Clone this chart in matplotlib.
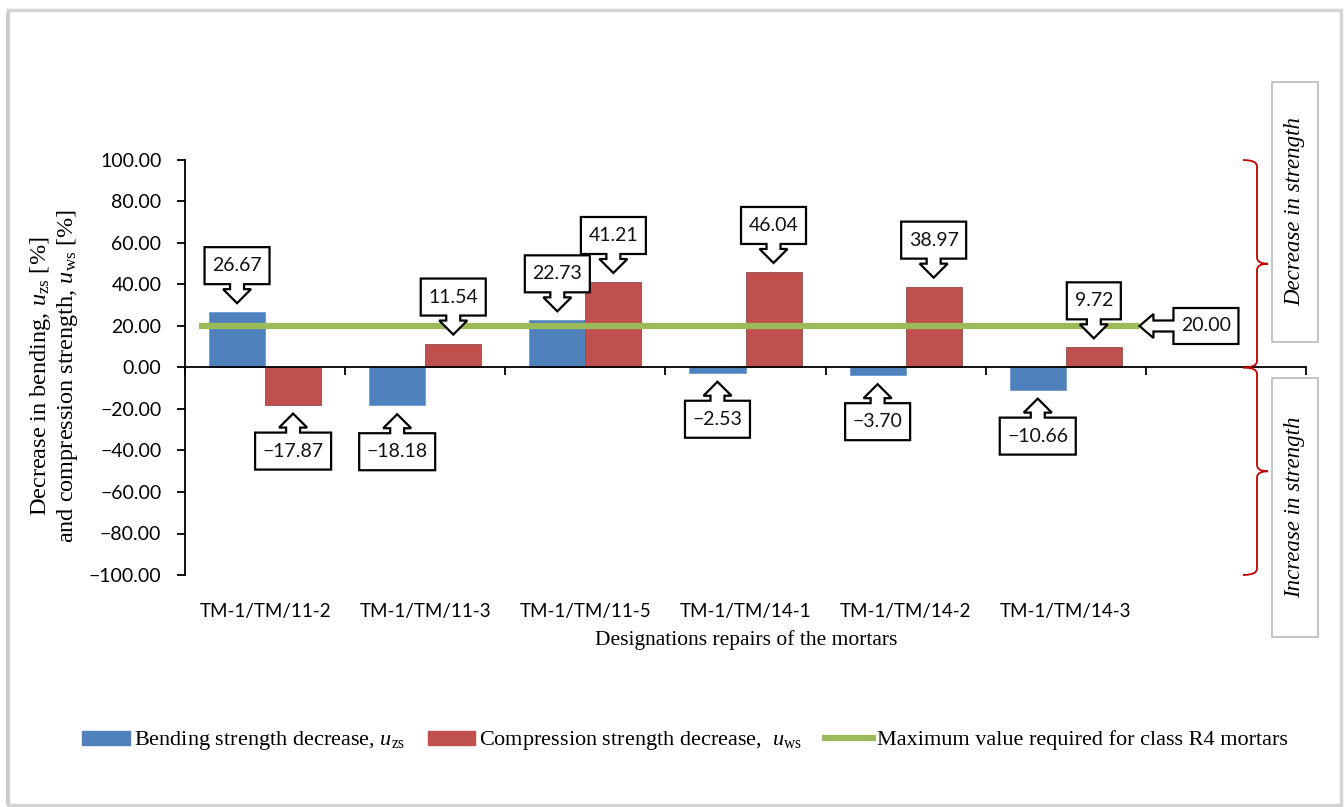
import matplotlib.pyplot as plt
import matplotlib.transforms as mtransforms
from matplotlib.patches import Polygon, Rectangle, PathPatch, Patch
from matplotlib.lines import Line2D
from matplotlib.path import Path
import numpy as np

mortars = ["TM-1/TM/11-2", "TM-1/TM/11-3", "TM-1/TM/11-5",
           "TM-1/TM/14-1", "TM-1/TM/14-2", "TM-1/TM/14-3"]
bending = [26.67, -18.18, 22.73, -2.53, -3.70, -10.66]
compression = [-17.87, 11.54, 41.21, 46.04, 38.97, 9.72]
r4_limit = 20.00

BLUE = "#4F81BD"
RED = "#C0504D"
GREEN = "#9BBB59"
SANS = ["Lato", "DejaVu Sans"]
SERIF = ["Liberation Serif", "DejaVu Serif"]

plt.rcParams["mathtext.fontset"] = "custom"
plt.rcParams["mathtext.rm"] = "Liberation Serif"
plt.rcParams["mathtext.it"] = "Liberation Serif:italic"

W, H = 1344, 807
fig = plt.figure(figsize=(W / 100, H / 100), dpi=100)
ax = fig.add_axes([185 / W, (H - 575) / H, (1306 - 185) / W, (575 - 160) / H])


def fmt(v):
    return f"{v:.2f}".replace("-", "\u2212")


x = np.arange(len(mortars))
bw = 0.35
ax.bar(x - bw / 2, bending, bw, color=BLUE, edgecolor="#6F9AD0", lw=0.6, zorder=2)
ax.bar(x + bw / 2, compression, bw, color=RED, edgecolor="#8E4A48", lw=0.6, zorder=2)
ax.hlines(r4_limit, -0.41, 5.46, color=GREEN, lw=4.5, zorder=3)

ax.set_xlim(-0.5, 6.5)
ax.set_ylim(-100, 100)
ax.set_yticks(np.arange(-100, 101, 20))
ax.set_yticklabels([fmt(v) for v in np.arange(-100, 101, 20)], fontfamily=SANS, fontsize=14)
ax.tick_params(axis="y", direction="out", length=6, width=1.3, pad=11)
ax.spines["left"].set_linewidth(1.3)
ax.spines["top"].set_visible(False)
ax.spines["right"].set_visible(False)
ax.spines["bottom"].set_position(("data", 0))
ax.spines["bottom"].set_linewidth(1.3)
ax.set_xticks(np.arange(-0.5, 7, 1))
ax.tick_params(axis="x", direction="out", length=6, width=1.3, labelbottom=False)

sec = ax.secondary_xaxis("bottom")
sec.set_xticks(x, mortars, fontfamily=SANS, fontsize=13.5)
sec.tick_params(length=0, pad=20)
sec.spines["bottom"].set_visible(False)


# arrow callouts, drawn in pixels around the end of each bar
def callout(xd, yd, txt, gap=9):
    trans = fig.dpi_scale_trans + mtransforms.ScaledTranslation(xd, yd, ax.transData)
    s = 1 if yd >= 0 else -1
    bwid = 11 * len(txt) + 10
    hw, hl, nw, nl, bh = 14, 14, 7, 5, 37
    pts = [(0, 0), (hw, hl), (nw, hl), (nw, hl + nl), (bwid / 2, hl + nl),
           (bwid / 2, hl + nl + bh), (-bwid / 2, hl + nl + bh), (-bwid / 2, hl + nl),
           (-nw, hl + nl), (-nw, hl), (-hw, hl)]
    pts = [(px / 100, s * (py + gap) / 100) for px, py in pts]
    ax.add_patch(Polygon(pts, closed=True, transform=trans, facecolor="white",
                         edgecolor="black", lw=1.6, zorder=5, clip_on=False))
    ax.text(0, s * (gap + hl + nl + bh / 2) / 100, txt, transform=trans, ha="center",
            va="center", fontfamily=SANS, fontsize=14, color="#111111", zorder=6)


for i in range(len(mortars)):
    callout(x[i] - bw / 2, bending[i], fmt(bending[i]))
    callout(x[i] + bw / 2, compression[i], fmt(compression[i]))

# callout for the limit line, pointing left
trans = fig.dpi_scale_trans + mtransforms.ScaledTranslation(5.46, r4_limit, ax.transData)
lpts = [(0, 0), (14, 12), (14, 5.5), (34, 5.5), (34, 18), (99, 18), (99, -18),
        (34, -18), (34, -5.5), (14, -5.5), (14, -12)]
ax.add_patch(Polygon([(a / 100, b / 100) for a, b in lpts], closed=True, transform=trans,
                     facecolor="white", edgecolor="black", lw=1.6, zorder=5, clip_on=False))
ax.text(66.5 / 100, 0, fmt(r4_limit), transform=trans, ha="center", va="center",
        fontfamily=SANS, fontsize=14, color="#111111", zorder=6)


# red braces on the right
def brace(yt, yb, x0=0.9438, xv=0.9563, x1=0.9661, r=3):
    ym = (yt + yb) / 2
    verts = [(x0, yt), (xv, yt), (xv, yt - r), (xv, ym + r), (xv, ym), (x1, ym),
             (xv, ym), (xv, ym - r), (xv, yb + r), (xv, yb), (x0, yb)]
    codes = [Path.MOVETO, Path.CURVE3, Path.CURVE3, Path.LINETO, Path.CURVE3, Path.CURVE3,
             Path.CURVE3, Path.CURVE3, Path.LINETO, Path.CURVE3, Path.CURVE3]
    ax.add_patch(PathPatch(Path(verts, codes), transform=ax.get_yaxis_transform(),
                           fill=False, edgecolor="#C00000", lw=1.3, clip_on=False, zorder=4))


brace(100, 0)
brace(0, -100)

# side boxes
for (y0, y1, txt) in [(82, 342, "Decrease in strength"), (378, 637, "Increase in strength")]:
    fig.add_artist(Rectangle((1272 / W, 1 - y1 / H), 46 / W, (y1 - y0) / H,
                             transform=fig.transFigure, fill=False, edgecolor="#BFBFBF", lw=1.3))
    fig.text(1295 / W, 1 - (y0 + y1) / 2 / H, txt, rotation=90, ha="center", va="center",
             fontfamily=SERIF, fontstyle="italic", fontsize=16.5)

# outer frame with a soft shadow on the left
fig.add_artist(Rectangle((8 / W, 1 - 805 / H), (1341 - 8) / W, (805 - 10) / H,
                         transform=fig.transFigure, fill=False, edgecolor="#D4D4D4", lw=2.5))
fig.add_artist(Line2D([6.5 / W, 6.5 / W], [1 - 803 / H, 1 - 14 / H], transform=fig.transFigure,
                      color="#C8C8C8", lw=2))

fig.text(54 / W, 1 - 376 / H,
         "Decrease in bending, $u_{\\mathrm{zs}}$ $[\\%]$\nand compression strength, $u_{\\mathrm{ws}}$ $[\\%]$",
         rotation=90, ha="center", va="center", multialignment="center",
         fontfamily=SERIF, fontsize=17.5, linespacing=1.1)
fig.text(746 / W, 1 - 640 / H, "Designations repairs of the mortars", ha="center", va="center",
         fontfamily=SERIF, fontsize=15.5)

handles = [Patch(color=BLUE), Patch(color=RED), Line2D([], [], color=GREEN, lw=4.5)]
labels = ["Bending strength decrease, $u_{\\mathrm{zs}}$",
          "Compression strength decrease,  $u_{\\mathrm{ws}}$",
          "Maximum value required for class R4 mortars"]
fig.legend(handles, labels, loc="center", bbox_to_anchor=(685 / W, 1 - 741 / H), ncol=3,
           frameon=False, prop={"family": SERIF, "size": 16}, handlelength=2.15,
           handleheight=0.6, handletextpad=0.18, columnspacing=1.0)

fig.savefig("out.png", dpi=100)
